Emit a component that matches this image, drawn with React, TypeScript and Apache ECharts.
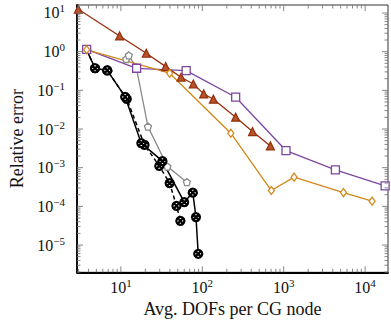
import React, { useEffect, useRef } from "react";
import * as echarts from "echarts";

// ---- data ----
const brownX = [3, 9.65, 20.5, 35.5, 54.8, 77.6, 104, 137, 257, 414, 686];
const brownY = [12.5, 2.55, 0.91, 0.41, 0.218, 0.146, 0.081, 0.059, 0.0202, 0.00857, 0.00366];

const purpleX = [3.8, 15.6, 63.4, 257, 1067, 4315, 17600];
const purpleY = [1.14, 0.372, 0.323, 0.0664, 0.00277, 8.77e-4, 3.39e-4];

const orangeX = [3.8, 39.7, 224, 705, 1343, 5420, 12190];
const orangeY = [1.12, 0.277, 0.00778, 2.56e-4, 5.68e-4, 2.27e-4, 1.36e-4];

const grayX = [11.6, 12.5, 15.5, 21.5, 37.3, 64.7];
const grayY = [0.647, 0.8, 0.38, 0.01153, 1.07e-3, 4.22e-4];

const blackSolidX = [3.8, 4.82, 6.8, 11.3, 17.8, 32.4, 60, 76.4, 83.6, 89.1];
const blackSolidY = [1.1, 0.372, 0.327, 0.0676, 0.0043, 1.48e-3, 1.28e-4, 2.27e-4, 5.26e-5, 5.93e-6];

const blackDashX = [3.8, 4.82, 6.8, 11.8, 19.5, 29.6, 39.7, 48.2, 53.8];
const blackDashY = [1.1, 0.372, 0.327, 0.06, 0.00388, 1.11e-3, 3.98e-4, 1.03e-4, 4.22e-5];

// ---- axis ticks ----
const xMajorTicks = [10, 100, 1000, 10000];
const xMinorTicks = [
  3, 4, 5, 6, 7, 8, 9,
  20, 30, 40, 50, 60, 70, 80, 90,
  200, 300, 400, 500, 600, 700, 800, 900,
  2000, 3000, 4000, 5000, 6000, 7000, 8000, 9000,
];
const yMajorTicks = [1e-5, 1e-4, 1e-3, 1e-2, 1e-1, 1, 10];
const yMinorTicks = [
  2e-6, 3e-6, 4e-6, 5e-6, 6e-6, 7e-6, 8e-6, 9e-6,
  2e-5, 3e-5, 4e-5, 5e-5, 6e-5, 7e-5, 8e-5, 9e-5,
  2e-4, 3e-4, 4e-4, 5e-4, 6e-4, 7e-4, 8e-4, 9e-4,
  2e-3, 3e-3, 4e-3, 5e-3, 6e-3, 7e-3, 8e-3, 9e-3,
  2e-2, 3e-2, 4e-2, 5e-2, 6e-2, 7e-2, 8e-2, 9e-2,
  0.2, 0.3, 0.4, 0.5, 0.6, 0.7, 0.8, 0.9,
  2, 3, 4, 5, 6, 7, 8, 9,
];

const X_MIN = 2.89;
const X_MAX = 19100;
const Y_MIN = 1.97e-6;
const Y_MAX = 16.1;

const FONT = "'Liberation Serif', 'DejaVu Serif', serif";

const zip = (xs: number[], ys: number[]) => xs.map((x, i) => [x, ys[i]]);

const OTIMES = "path://M50,2 A48,48 0 1,1 49.9,2 Z M16,16 L84,84 M84,16 L16,84";
const PENTAGON = "path://M50,0 L97.6,34.5 L79.4,90.5 L20.6,90.5 L2.4,34.5 Z";

const supLabel = (v: number) => {
  const e = Math.log10(v);
  const r = Math.round(e);
  if (Math.abs(e - r) > 1e-6) return "";
  const s = r < 0 ? "\u2212" + -r : String(r);
  return `{b|10}{s|${s}}`;
};

const richStyle = {
  b: { fontFamily: FONT, fontSize: 16, lineHeight: 20, color: "#111" },
  s: { fontFamily: FONT, fontSize: 11, lineHeight: 12, verticalAlign: "top", color: "#111" },
};

const tickColor = "#777";

function makeTickSeries(values: number[], isX: boolean, len: number) {
  return {
    type: "custom",
    silent: true,
    z: 20,
    clip: false,
    data: values.map((v) => (isX ? [v, 1] : [10, v])),
    renderItem: (params: any, api: any) => {
      const cs = params.coordSys;
      const p = api.coord([api.value(0), api.value(1)]);
      const st = { stroke: tickColor, lineWidth: 0.9 };
      if (isX) {
        const yb = cs.y + cs.height;
        return {
          type: "group",
          children: [
            { type: "line", shape: { x1: p[0], y1: yb, x2: p[0], y2: yb - len }, style: st },
            { type: "line", shape: { x1: p[0], y1: cs.y, x2: p[0], y2: cs.y + len }, style: st },
          ],
        };
      }
      const xr = cs.x + cs.width;
      return {
        type: "group",
        children: [
          { type: "line", shape: { x1: cs.x, y1: p[1], x2: cs.x + len, y2: p[1] }, style: st },
          { type: "line", shape: { x1: xr, y1: p[1], x2: xr - len, y2: p[1] }, style: st },
        ],
      };
    },
  };
}

export default function App() {
  const ref = useRef<HTMLDivElement>(null);

  useEffect(() => {
    if (!ref.current) return;
    const chart = echarts.init(ref.current, undefined, { renderer: "svg" });

    const brown = "#952f0c";
    const purple = "#7d46a0";
    const orange = "#d2871a";
    const gray = "#8a8a8a";

    const option: any = {
      animation: false,
      backgroundColor: "#fff",
      grid: {
        left: 69,
        right: 2.5,
        top: 5,
        bottom: 51.7,
        show: true,
        borderColor: "#333",
        borderWidth: 1,
        backgroundColor: "transparent",
      },
      xAxis: {
        type: "log",
        logBase: 10,
        min: X_MIN,
        max: X_MAX,
        splitLine: { show: false },
        axisTick: { show: false },
        axisLine: { show: true, onZero: false, lineStyle: { color: "#000", width: 1.8 } },
        axisLabel: {
          margin: 5,
          formatter: supLabel,
          rich: richStyle,
          showMinLabel: true,
          showMaxLabel: true,
        },
        name: "Avg. DOFs per CG node",
        nameLocation: "middle",
        nameGap: 27,
        nameTextStyle: { fontFamily: FONT, fontSize: 18, color: "#111" },
      },
      yAxis: {
        type: "log",
        logBase: 10,
        min: Y_MIN,
        max: Y_MAX,
        splitNumber: 8,
        splitLine: { show: false },
        axisTick: { show: false },
        axisLine: { show: true, onZero: false, lineStyle: { color: "#000", width: 1.8 } },
        axisLabel: {
          margin: 12,
          formatter: supLabel,
          rich: richStyle,
        },
        name: "Relative error",
        nameLocation: "middle",
        nameGap: 51,
        nameTextStyle: { fontFamily: FONT, fontSize: 18, color: "#111" },
      },
      series: [
        {
          type: "line",
          data: zip(grayX, grayY),
          lineStyle: { color: gray, width: 1.3 },
          itemStyle: { color: "#fff", borderColor: gray, borderWidth: 1.3 },
          symbol: PENTAGON,
          symbolSize: 7,
          showAllSymbol: true,
        },
        {
          type: "line",
          data: zip(brownX, brownY),
          lineStyle: { color: brown, width: 1.3 },
          itemStyle: { color: "#b5532b", borderColor: brown, borderWidth: 1.2 },
          symbol: "triangle",
          symbolSize: 8,
          showAllSymbol: true,
        },
        {
          type: "line",
          data: zip(purpleX, purpleY),
          lineStyle: { color: purple, width: 1.3 },
          itemStyle: { color: "#fff", borderColor: purple, borderWidth: 1.3 },
          symbol: "rect",
          symbolSize: 8,
          showAllSymbol: true,
        },
        {
          type: "line",
          data: zip(orangeX, orangeY),
          lineStyle: { color: orange, width: 1.3 },
          itemStyle: { color: "#fff", borderColor: orange, borderWidth: 1.3 },
          symbol: "diamond",
          symbolSize: [6, 8],
          showAllSymbol: true,
        },
        {
          type: "line",
          data: zip(blackDashX, blackDashY).map((d, i) =>
            i === 0 ? { value: d, symbol: "none" } : d
          ),
          lineStyle: { color: "#000", width: 1.5, type: [4, 3] },
          itemStyle: { color: "#fff", borderColor: "#000", borderWidth: 2.2 },
          symbol: OTIMES,
          symbolSize: 8,
          showAllSymbol: true,
        },
        {
          type: "line",
          data: zip(blackSolidX, blackSolidY).map((d, i) =>
            i === 0 ? { value: d, symbol: "none" } : d
          ),
          lineStyle: { color: "#000", width: 1.5 },
          itemStyle: { color: "#fff", borderColor: "#000", borderWidth: 2.2 },
          symbol: OTIMES,
          symbolSize: 8,
          showAllSymbol: true,
        },
        makeTickSeries(xMajorTicks, true, 6),
        makeTickSeries(xMinorTicks, true, 3.5),
        makeTickSeries(yMajorTicks, false, 6),
        makeTickSeries(yMinorTicks, false, 3.5),
      ],
    };

    chart.setOption(option);
    return () => chart.dispose();
  }, []);

  return (
    <div
      ref={ref}
      style={{ position: "fixed", left: 0, top: 0, width: 391, height: 324, background: "#fff" }}
    />
  );
}
